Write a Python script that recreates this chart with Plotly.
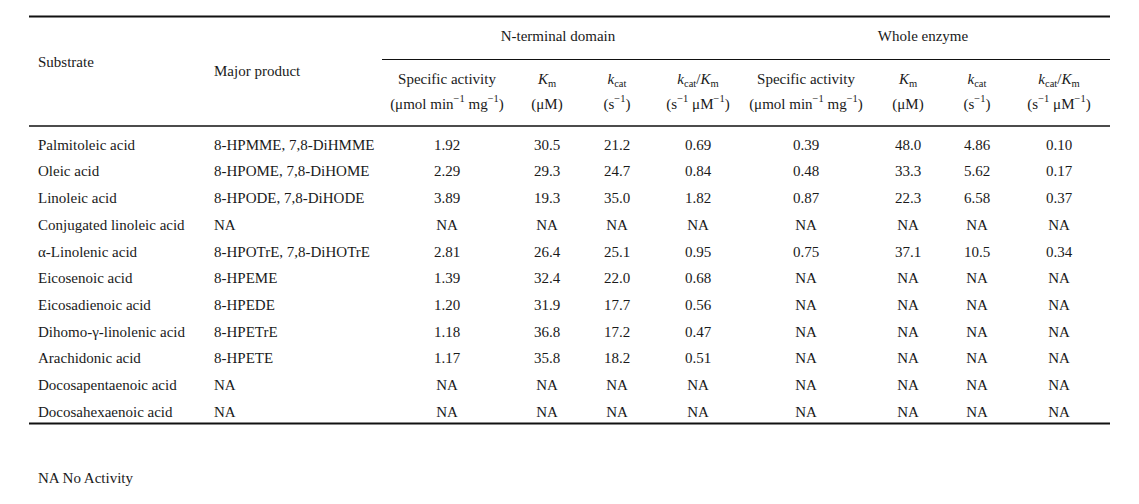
import plotly.graph_objects as go

# ---------------- data ----------------
substrates = [
    "Palmitoleic acid", "Oleic acid", "Linoleic acid", "Conjugated linoleic acid",
    "α-Linolenic acid", "Eicosenoic acid", "Eicosadienoic acid",
    "Dihomo-γ-linolenic acid", "Arachidonic acid", "Docosapentaenoic acid",
    "Docosahexaenoic acid",
]
products = [
    "8-HPMME, 7,8-DiHMME", "8-HPOME, 7,8-DiHOME", "8-HPODE, 7,8-DiHODE", "NA",
    "8-HPOTrE, 7,8-DiHOTrE", "8-HPEME", "8-HPEDE", "8-HPETrE", "8-HPETE", "NA", "NA",
]
nt_specific = ["1.92", "2.29", "3.89", "NA", "2.81", "1.39", "1.20", "1.18", "1.17", "NA", "NA"]
nt_km = ["30.5", "29.3", "19.3", "NA", "26.4", "32.4", "31.9", "36.8", "35.8", "NA", "NA"]
nt_kcat = ["21.2", "24.7", "35.0", "NA", "25.1", "22.0", "17.7", "17.2", "18.2", "NA", "NA"]
nt_eff = ["0.69", "0.84", "1.82", "NA", "0.95", "0.68", "0.56", "0.47", "0.51", "NA", "NA"]
we_specific = ["0.39", "0.48", "0.87", "NA", "0.75", "NA", "NA", "NA", "NA", "NA", "NA"]
we_km = ["48.0", "33.3", "22.3", "NA", "37.1", "NA", "NA", "NA", "NA", "NA", "NA"]
we_kcat = ["4.86", "5.62", "6.58", "NA", "10.5", "NA", "NA", "NA", "NA", "NA", "NA"]
we_eff = ["0.10", "0.17", "0.37", "NA", "0.34", "NA", "NA", "NA", "NA", "NA", "NA"]

group_labels = ["N-terminal domain", "Whole enzyme"]
sub_header_1 = ["Specific activity", "<i>K</i><sub>m</sub>", "<i>k</i><sub>cat</sub>",
                "<i>k</i><sub>cat</sub>/<i>K</i><sub>m</sub>"]
sub_header_2 = ["(μmol min<sup>−1</sup> mg<sup>−1</sup>)", "(μM)", "(s<sup>−1</sup>)",
                "(s<sup>−1</sup> μM<sup>−1</sup>)"]
footnote = "NA No Activity"

# ---------------- layout constants ----------------
W, H = 1139, 504
PAGE_MARGIN = 8  # default body margin of the html page
FONT = "Liberation Serif, Times New Roman, serif"
FS = 15
COLOR = "#1a1a1a"

x_sub = 38
x_prod = 214
nt_x = [447, 547, 617, 698]
we_x = [806, 908, 977, 1059]
group_x = [558, 923]
row0, row_h = 146, 26.7
table_left, table_right = 29, 1110
group_rule_left = 382

fig = go.Figure()

def text_trace(xs, ys, texts, pos):
    fig.add_trace(go.Scatter(
        x=xs, y=ys, text=texts, mode="text", textposition=pos,
        textfont=dict(family=FONT, size=FS, color=COLOR),
        hoverinfo="skip", showlegend=False, cliponaxis=False,
    ))

rows_y = [row0 + i * row_h for i in range(len(substrates))]
n = len(substrates)

# body columns
text_trace([x_sub] * n, rows_y, substrates, "middle right")
text_trace([x_prod] * n, rows_y, products, "middle right")
for xc, col in zip(nt_x, [nt_specific, nt_km, nt_kcat, nt_eff]):
    text_trace([xc] * n, rows_y, col, "middle center")
for xc, col in zip(we_x, [we_specific, we_km, we_kcat, we_eff]):
    text_trace([xc] * n, rows_y, col, "middle center")

# headers
text_trace([x_sub], [63], ["Substrate"], "middle right")
text_trace([x_prod], [72], ["Major product"], "middle right")
text_trace(group_x, [37, 37], group_labels, "middle center")
text_trace(nt_x + we_x, [80] * 8, sub_header_1 * 2, "middle center")
text_trace(nt_x + we_x, [105] * 8, sub_header_2 * 2, "middle center")
text_trace([x_sub], [479], [footnote], "middle right")

# rules
def rule(y, x0, x1, w):
    fig.add_shape(type="line", xref="x", yref="y", x0=x0, x1=x1, y0=y, y1=y,
                  line=dict(color="#111111", width=w))

rule(16.5, table_left, table_right, 2)
rule(59.5, group_rule_left, table_right, 1)
rule(126, table_left, table_right, 1.5)
rule(423.5, table_left, table_right, 2)

fig.update_xaxes(range=[PAGE_MARGIN, W], visible=False, fixedrange=True)
fig.update_yaxes(range=[H, PAGE_MARGIN], visible=False, fixedrange=True)
fig.update_layout(
    width=W - PAGE_MARGIN, height=H - PAGE_MARGIN, margin=dict(l=0, r=0, t=0, b=0),
    paper_bgcolor="white", plot_bgcolor="white",
    showlegend=False,
)

fig.write_html("out.html")
